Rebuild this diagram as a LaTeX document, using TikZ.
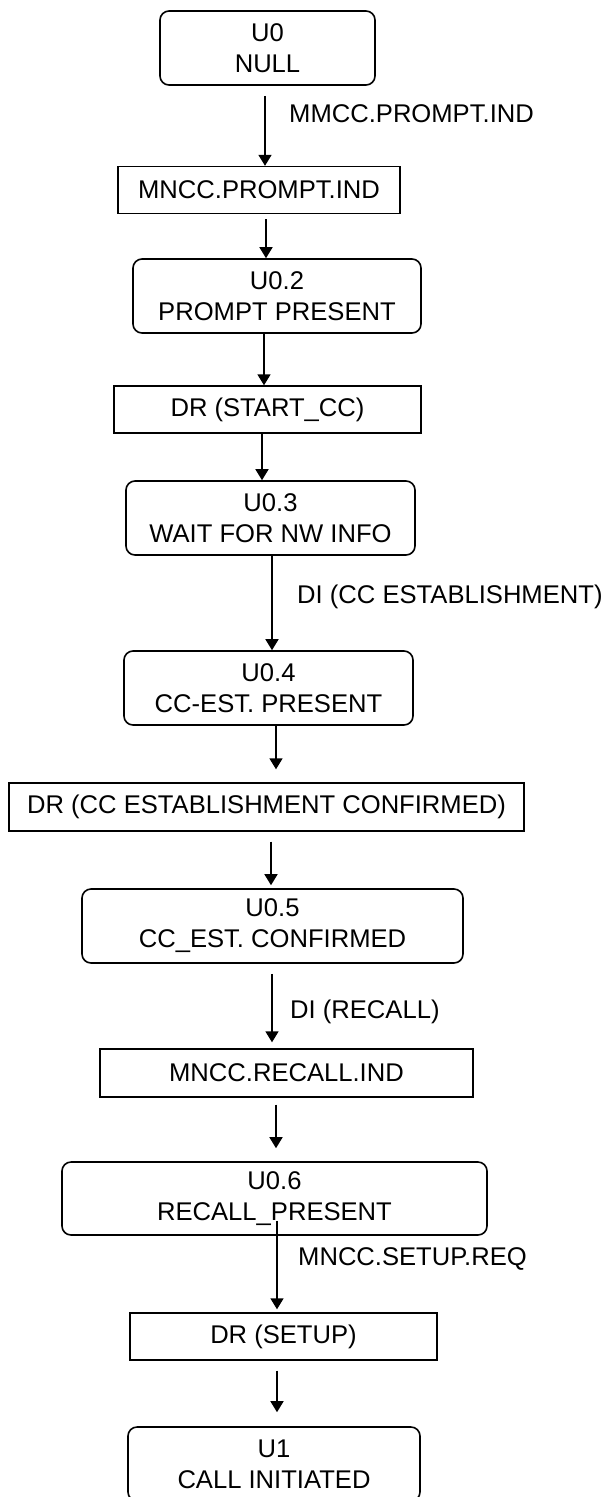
\documentclass[tikz,border=0pt]{standalone}
\usepackage{fontspec}
\setmainfont{Liberation Sans}
\usetikzlibrary{arrows.meta}
\begin{document}
\begin{tikzpicture}[x=1pt,y=-1pt,
  every node/.style={font=\fontsize{25.6}{31}\selectfont, inner sep=0pt, align=center},
  statebox/.style={draw, line width=1.6pt, rounded corners=9pt, minimum height=74pt},
  msgbox/.style={draw, line width=1.4pt, minimum height=47pt},
  lbl/.style={anchor=west},
  arr/.style={line width=1.6pt, -{Triangle[width=13pt,length=11pt]}}]
\useasboundingbox (0,0) rectangle (610,1497);
% boxes
\node[statebox, minimum width=215pt] (u0)  at (267.5,48)   {U0\\NULL};
\node[msgbox,   minimum width=282pt] (mp)  at (259,190)    {MNCC.PROMPT.IND};
\node[statebox, minimum width=288pt] (u02) at (277,296)    {U0.2\\PROMPT PRESENT};
\node[msgbox,   minimum width=307pt] (ds)  at (267.5,409.5){DR (START\_CC)};
\node[statebox, minimum width=289pt] (u03) at (270.5,518)  {U0.3\\WAIT FOR NW INFO};
\node[statebox, minimum width=289pt] (u04) at (268.5,688)  {U0.4\\CC-EST. PRESENT};
\node[msgbox,   minimum width=515pt, minimum height=48pt] (dc) at (266.5,807) {DR (CC ESTABLISHMENT CONFIRMED)};
\node[statebox, minimum width=381pt] (u05) at (272.5,926)  {U0.5\\CC\_EST. CONFIRMED};
\node[msgbox,   minimum width=373pt, minimum height=48pt] (mr) at (286.5,1073) {MNCC.RECALL.IND};
\node[statebox, minimum width=425pt, minimum height=73pt] (u06) at (274.5,1198.5) {U0.6\\RECALL\_PRESENT};
\node[msgbox,   minimum width=307pt] (dsu) at (283.5,1336.5) {DR (SETUP)};
\node[statebox, minimum width=292pt] (u1)  at (274,1464)   {U1\\CALL INITIATED};
% labels
\node[lbl] (l1) at (289,114)  {MMCC.PROMPT.IND};
\node[lbl] (l2) at (297,597)  {DI (CC ESTABLISHMENT)};
\node[lbl] (l3) at (290,1012) {DI (RECALL)};
\node[lbl] (l4) at (298,1259) {MNCC.SETUP.REQ};
% connectors
\draw[arr, shorten <=10pt] (u0.south -| 265,0)  -- (mp.north -| 265,0);
\draw[arr, shorten <=5pt]  (mp.south -| 266,0)  -- (u02.north -| 266,0);
\draw[arr]                 (u02.south -| 264,0) -- (ds.north -| 264,0);
\draw[arr]                 (ds.south -| 262,0)  -- (u03.north -| 262,0);
\draw[arr]                 (u03.south -| 272,0) -- (u04.north -| 272,0);
\draw[arr, shorten >=13pt] (u04.south -| 276,0) -- (dc.north -| 276,0);
\draw[arr, shorten <=10pt, shorten >=3pt] (dc.south -| 271,0) -- (u05.north -| 271,0);
\draw[arr, shorten <=10pt, shorten >=6pt] (u05.south -| 272,0) -- (mr.north -| 272,0);
\draw[arr, shorten <=7pt, shorten >=13pt] (mr.south -| 276,0) -- (u06.north -| 276,0);
\draw[arr, shorten <=-15pt, shorten >=3pt] (u06.south -| 277,0) -- (dsu.north -| 277,0);
\draw[arr, shorten <=10pt, shorten >=14pt] (dsu.south -| 277,0) -- (u1.north -| 277,0);
\end{tikzpicture}
\end{document}
